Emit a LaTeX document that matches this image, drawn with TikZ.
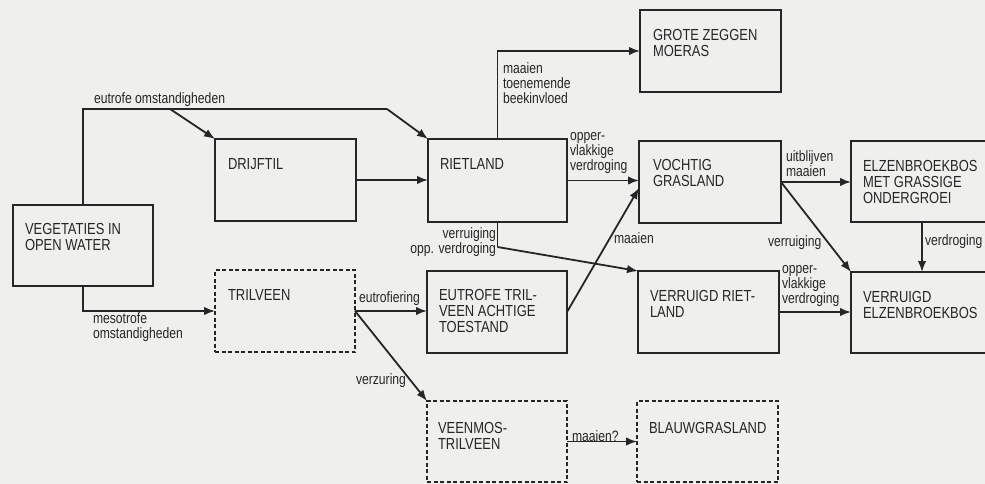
\documentclass[tikz,border=0pt]{standalone}
\usepackage{fontspec}
\setmainfont{Liberation Sans}[FakeStretch=0.81]
\usetikzlibrary{arrows.meta,calc}
\definecolor{paper}{RGB}{239,239,237}
\definecolor{ink}{RGB}{38,38,38}
\begin{document}
\begin{tikzpicture}[x=1pt,y=-1pt,
  every node/.style={inner sep=0pt,outer sep=0pt,text=ink},
  box/.style={draw=ink,line width=1.1pt,minimum width=140pt,minimum height=82pt},
  dbox/.style={box,dash pattern=on 4pt off 2.5pt},
  btext/.style={anchor=north west,align=left,font=\fontsize{16}{16}\selectfont},
  lab/.style={align=left,font=\fontsize{15}{15}\selectfont},
  conn/.style={draw=ink,line width=1.8pt,-{Latex[length=11pt,width=8.5pt]}},
  plainline/.style={draw=ink,line width=1.8pt}]
\fill[paper] (0,0) rectangle (985,484);
\useasboundingbox (0,0) rectangle (985,484);

% boxes
\node[box,minimum height=81pt] (veg) at (83,245.5) {};
\node[box,minimum width=141pt] (drijf) at (285.5,180) {};
\node[box,minimum width=139pt,minimum height=83pt] (riet) at (497.5,180.5) {};
\node[box,minimum width=141pt] (grote) at (710.5,51) {};
\node[box,minimum width=142pt] (voch) at (710,182) {};
\node[box,minimum width=142pt,minimum height=81pt] (elz) at (922,181.5) {};
\node[box,minimum width=142pt,minimum height=81pt] (velz) at (922,312.5) {};
\node[box,minimum width=141pt] (vriet) at (708.5,312) {};
\node[box] (eutr) at (497,312) {};
\node[dbox] (tril) at (285,311) {};
\node[dbox,minimum height=81pt] (veen) at (497,441.5) {};
\node[dbox,minimum width=141pt,minimum height=81pt] (blauw) at (707.5,441.5) {};

% box texts
\node[btext] (vegT) at ($(veg.north west)+(12,18)$) {VEGETATIES IN\\OPEN WATER};
\node[btext] (drijfT) at ($(drijf.north west)+(13,19)$) {DRIJFTIL};
\node[btext] (rietT) at ($(riet.north west)+(12,19)$) {RIETLAND};
\node[btext] (groteT) at ($(grote.north west)+(13,19)$) {GROTE ZEGGEN\\MOERAS};
\node[btext] (vochT) at ($(voch.north west)+(14,18)$) {VOCHTIG\\GRASLAND};
\node[btext] (elzT) at ($(elz.north west)+(12,19)$) {ELZENBROEKBOS\\MET GRASSIGE\\ONDERGROEI};
\node[btext] (velzT) at ($(velz.north west)+(12,19)$) {VERRUIGD\\ELZENBROEKBOS};
\node[btext] (vrietT) at ($(vriet.north west)+(12,19)$) {VERRUIGD RIET-\\LAND};
\node[btext] (eutrT) at ($(eutr.north west)+(12,18)$) {EUTROFE TRIL-\\VEEN ACHTIGE\\TOESTAND};
\node[btext] (trilT) at ($(tril.north west)+(13,19)$) {TRILVEEN};
\node[btext] (veenT) at ($(veen.north west)+(11,21)$) {VEENMOS-\\TRILVEEN};
\node[btext] (blauwT) at ($(blauw.north west)+(12,21)$) {BLAUWGRASLAND};

% connectors
\coordinate (c1) at (83,109);
\coordinate (c2) at (170,109);
\coordinate (c3) at (387,109);
\path[plainline] (veg.north) -- (c1) -- (c3);
\path[conn] (c3) -- (riet.north west);
\path[conn] (c2) -- (drijf.north west);
\path[conn] (drijf.east) -- (drijf.east -| riet.west);
\path[conn] (riet.north) |- (grote.west);
\path[conn] (riet.east) -- (riet.east -| voch.west);
\coordinate (c4) at ($(riet.south)+(0,25)$);
\path[plainline] (riet.south) -- (c4);
\path[conn] (c4) -- (vriet.north west);
\path[conn] (veg.south) |- (tril.west);
\path[conn] (tril.east) -- (tril.east -| eutr.west);
\path[conn] (tril.east) -- (veen.north west);
\path[conn] (eutr.east) -- ($(voch.west)+(0,6)$);
\path[conn] (veen.east) -- (veen.east -| blauw.west);
\path[conn] (voch.east) -- (voch.east -| elz.west);
\path[conn] (voch.east) -- (velz.north west);
\path[conn] (elz.south) -- (elz.south |- velz.north);
\path[conn] (vriet.east) -- (vriet.east -| velz.west);

% labels (base anchor of a multi-line node = last line)
\node[lab,anchor=base west] (l1) at (94,104) {eutrofe omstandigheden};
\node[lab,anchor=base west] (l2) at (93,338) {mesotrofe\\omstandigheden};
\node[lab,anchor=base west] (l3) at (503,104) {maaien\\toenemende\\beekinvloed};
\node[lab,anchor=base west] (l4) at (570,171) {opper-\\vlakkige\\verdroging};
\node[lab,anchor=base east,align=right] (l5) at (496,253) {verruiging\\opp. verdroging};
\node[lab,anchor=base west] (l6) at (614,243) {maaien};
\node[lab,anchor=base west] (l7) at (359,302) {eutrofiering};
\node[lab,anchor=base west] (l8) at (356,384) {verzuring};
\node[lab,anchor=base west] (l9) at (572,441) {maaien?};
\node[lab,anchor=base west] (l10) at (786,176) {uitblijven\\maaien};
\node[lab,anchor=base west] (l11) at (768,246) {verruiging};
\node[lab,anchor=base west] (l12) at (782,303) {opper-\\vlakkige\\verdroging};
\node[lab,anchor=base west] (l13) at (925,245) {verdroging};
\end{tikzpicture}
\end{document}
